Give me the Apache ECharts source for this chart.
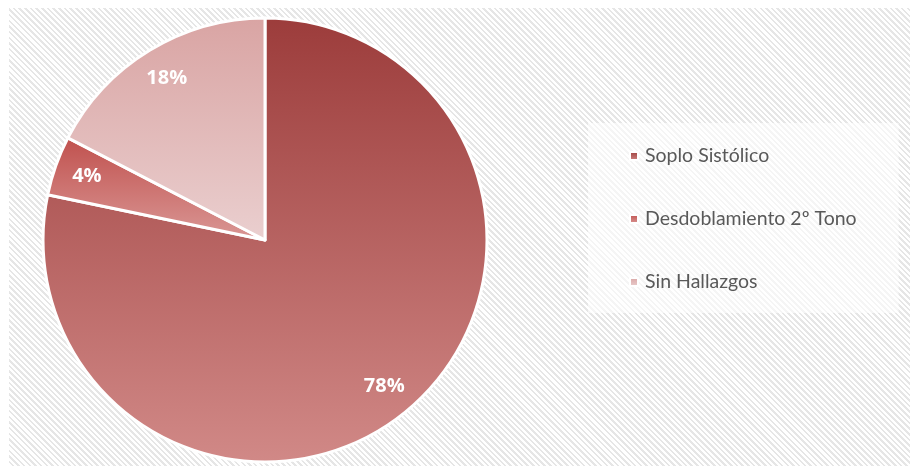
<!DOCTYPE html>
<html>
<head>
<meta charset="utf-8">
<script src="https://cdn.jsdelivr.net/npm/echarts@6/dist/echarts.min.js"></script>
<style>
  html, body { margin: 0; padding: 0; background: #fff; }
  #wrap { position: relative; width: 910px; height: 466px; }
  #bg {
    position: absolute; left: 9px; top: 8px; right: 0; bottom: 0;
    background: repeating-linear-gradient(45deg, #ffffff 0px, #ffffff 2.2px, #e6e6e6 2.2px, #e6e6e6 4px);
  }
  #chart { position: absolute; left: 0; top: 0; width: 910px; height: 466px; }
</style>
</head>
<body>
<div id="wrap">
  <div id="bg"></div>
  <div id="chart"></div>
</div>
<script>
const categories = ['Soplo Sistólico', 'Desdoblamiento 2º Tono', 'Sin Hallazgos'];
// counts, shown as percentage of the total
const values = [18, 1, 4];
// top / bottom colours of each slice gradient
const topColors = ['#9c3c3b', '#c0504d', '#d9a4a3'];
const bottomColors = ['#d18987', '#da9896', '#eacfcf'];

const grad = (i) => new echarts.graphic.LinearGradient(0, 0, 0, 1, [
  { offset: 0, color: topColors[i] },
  { offset: 1, color: bottomColors[i] }
]);

const pieData = categories.map((name, i) => ({
  name: name,
  value: values[i],
  itemStyle: { color: grad(i) }
}));

// transparent ring only used to place the percentage labels
const labelData = categories.map((name, i) => ({ name: name, value: values[i] }));

const chart = echarts.init(document.getElementById('chart'));
chart.setOption({
  animation: false,
  backgroundColor: 'transparent',
  legend: {
    orient: 'vertical',
    left: 588,
    top: 123,
    padding: [23, 42, 21, 41],
    itemGap: 43,
    itemWidth: 8,
    itemHeight: 8,
    icon: 'rect',
    backgroundColor: 'rgba(255,255,255,0.6)',
    data: categories,
    textStyle: { fontFamily: 'Lato', fontSize: 19.5, color: '#595959', lineHeight: 20, padding: [0, 0, 0, 2] }
  },
  series: [
    {
      type: 'pie',
      center: [265, 240],
      radius: [0, 222],
      startAngle: 90,
      clockwise: true,
      silent: true,
      label: { show: false },
      labelLine: { show: false },
      itemStyle: { borderColor: '#ffffff', borderWidth: 3 },
      data: pieData
    },
    {
      type: 'pie',
      center: [265, 240],
      radius: [150, 222],
      startAngle: 90,
      clockwise: true,
      silent: true,
      legendHoverLink: false,
      percentPrecision: 0,
      itemStyle: { color: 'rgba(0,0,0,0)' },
      label: {
        show: true,
        position: 'inside',
        formatter: '{d}%',
        color: '#ffffff',
        fontFamily: 'Open Sans',
        fontWeight: 'bold',
        fontSize: 20
      },
      labelLine: { show: false },
      data: labelData
    }
  ]
});
</script>
</body>
</html>
